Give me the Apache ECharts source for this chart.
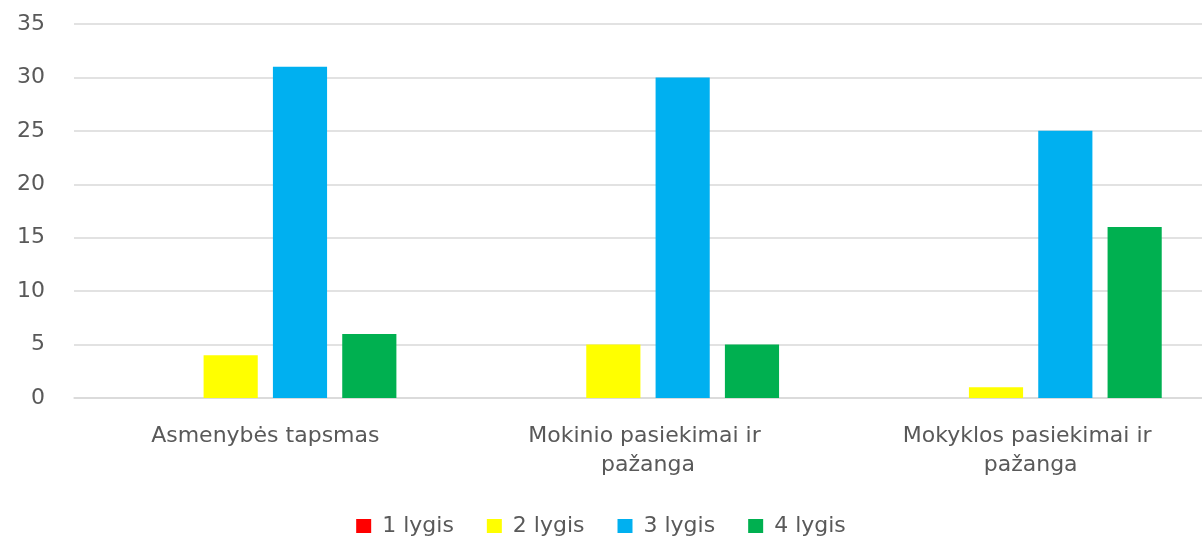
<!DOCTYPE html>
<html>
<head>
<meta charset="utf-8">
<script src="https://cdn.jsdelivr.net/npm/echarts@6/dist/echarts.min.js"></script>
<style>
    html, body { margin: 0; padding: 0; background: #fff; overflow: hidden; }
    #chart { width: 1202px; height: 540px; }
</style>
</head>
<body>
<div id="chart"></div>
<script>
    // chart data
    var categories = ['Asmenybės tapsmas', 'Mokinio pasiekimai ir pažanga', 'Mokyklos pasiekimai ir pažanga']
    var seriesNames = ['1 lygis', '2 lygis', '3 lygis', '4 lygis']
    var lygis1 = [0, 0, 0]
    var lygis2 = [4, 5, 1]
    var lygis3 = [31, 30, 25]
    var lygis4 = [6, 5, 16]
    var colors = ['#ff0000', '#ffff00', '#00b0f0', '#00b050']

    var font = '"DejaVu Sans", sans-serif'
    var values = [lygis1, lygis2, lygis3, lygis4]

    var chart = echarts.init(document.getElementById('chart'))

    chart.setOption({
        animation: false,
        color: colors,
        textStyle: { fontFamily: font },
        grid: {
            left: 74,
            right: -20,
            top: 24,
            bottom: 142,
            outerBoundsMode: 'none'
        },
        legend: {
            data: seriesNames,
            top: 510,
            left: 'center',
            icon: 'rect',
            itemWidth: 15,
            itemHeight: 14,
            itemGap: 33,
            textStyle: { color: '#595959', fontSize: 22, fontFamily: font, padding: [0, 0, 0, 6] }
        },
        xAxis: {
            type: 'category',
            data: categories,
            axisLine: { lineStyle: { color: '#d9d9d9', width: 1.5 } },
            axisTick: { show: false },
            axisLabel: {
                color: '#595959',
                fontSize: 22,
                fontFamily: font,
                margin: 24,
                lineHeight: 29,
                width: 300,
                overflow: 'break',
                interval: 0
            }
        },
        yAxis: {
            type: 'value',
            min: 0,
            max: 35,
            interval: 5,
            axisLine: { show: false },
            axisTick: { show: false },
            axisLabel: { color: '#595959', fontSize: 22, fontFamily: font, margin: 29 },
            splitLine: { lineStyle: { color: '#d9d9d9', width: 1.5 } }
        },
        series: seriesNames.map(function (name, i) {
            return {
                name: name,
                type: 'bar',
                data: values[i],
                barGap: '28%',
                barCategoryGap: '31.5%'
            }
        })
    })
</script>
</body>
</html>
